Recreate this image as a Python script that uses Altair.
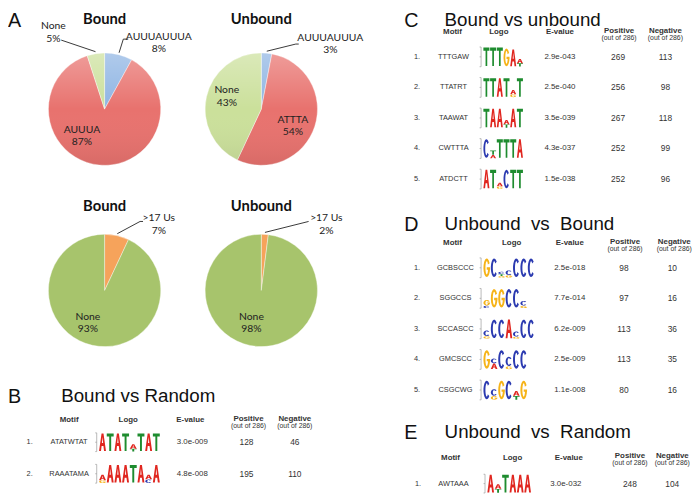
import altair as alt
import numpy as np
import pandas as pd

# ---------------- Panel A: pie data ----------------
top_bound_cat = ["AUUUAUUUA", "AUUUA", "None"]
top_bound_pct = [8, 87, 5]
top_unbound_cat = ["AUUUAUUUA", "ATTTA", "None"]
top_unbound_pct = [3, 54, 43]
bot_bound_cat = [">17 Us", "None"]
bot_bound_pct = [7, 93]
bot_unbound_cat = [">17 Us", "None"]
bot_unbound_pct = [2, 98]

# ---------------- Panel B: Bound vs Random ----------------
b_motifs = ["ATATWTAT", "RAAATAMA"]
b_evalues = ["3.0e-009", "4.8e-008"]
b_positive = [128, 195]
b_negative = [46, 110]
b_logos = ["A2 T2 A2 T2 T.3/A.5 T2 A2 T2",
           "G.3/A.6 A2 A2 A2 T2 A2 C.4/A.5 A2"]

# ---------------- Panel C: Bound vs unbound ----------------
c_motifs = ["TTTGAW", "TTATRT", "TAAWAT", "CWTTTA", "ATDCTT"]
c_evalues = ["2.9e-043", "2.5e-040", "3.5e-039", "4.3e-037", "1.5e-038"]
c_positive = [269, 256, 267, 252, 252]
c_negative = [113, 98, 118, 99, 96]
c_logos = ["T2 T2 T2 G1.9 A1.8 T.35/A.45",
           "T2 T2 A2 T2 G.3/A.45 T2",
           "T2 A2 A2 T.35/A.45 A2 T2",
           "C2 A.35/T.45 T2 T2 T2 A2",
           "A2 T2 G.25/A.4 C2 T2 T2"]

# ---------------- Panel D: Unbound vs Bound ----------------
d_motifs = ["GCBSCCC", "SGGCCS", "SCCASCC", "GMCSCC", "CSGCWG"]
d_evalues = ["2.5e-018", "7.7e-014", "6.2e-009", "2.5e-009", "1.1e-008"]
d_positive = [98, 97, 113, 113, 80]
d_negative = [10, 16, 36, 35, 16]
d_logos = ["G2 C2 G.15/T.2/C.25 G.25/C.5 C2 C2 C2",
           "C.25/G.6 G2 G2 C2 C2 G.25/C.5",
           "G.25/C.6 C2 C2 A2 G.2/C.55 C2 C2",
           "G2 A.6/C.5 C2 G.3/C1.0 C2 C2",
           "C2 G.4/C.7 G2 C2 T.4/A.5 G2"]

# ---------------- Panel E: Unbound vs Random ----------------
e_motifs = ["AWTAAA"]
e_evalues = ["3.0e-032"]
e_positive = [248]
e_negative = [104]
e_logos = ["A2 T.45/A.5 T2 A2 A2 A2"]

LOGO_COLORS = {"A": "#e0261f", "C": "#2b3ab0", "G": "#f6b318", "T": "#1e8c2f"}
FP = "Lato"
FT = "Liberation Sans"


# ---------------- glyph shapes for sequence logos ----------------
def _ring(a0, a1, rxo=0.5, ryo=0.5, rxi=0.2, ryi=0.36, n=16):
    ang = np.radians(np.linspace(a0, a1, n))
    outer = [(0.5 + rxo * np.cos(a), 0.5 - ryo * np.sin(a)) for a in ang]
    inner = [(0.5 + rxi * np.cos(a), 0.5 - ryi * np.sin(a)) for a in ang[::-1]]
    return outer + inner


def _area(p):
    s = 0.0
    for (x1, y1), (x2, y2) in zip(p, p[1:] + p[:1]):
        s += x1 * y2 - x2 * y1
    return s / 2


def _orient(p, sign):
    return p if np.sign(_area(p)) == sign else p[::-1]


GLYPHS = {
    "T": [(1, [(0, 0), (1, 0), (1, 0.17), (0.64, 0.17), (0.64, 1), (0.36, 1), (0.36, 0.17), (0, 0.17)])],
    "A": [(1, [(0, 1), (0.36, 0), (0.64, 0), (1, 1), (0.72, 1), (0.63, 0.72), (0.37, 0.72), (0.28, 1)]),
          (-1, [(0.41, 0.55), (0.59, 0.55), (0.5, 0.2)])],
    "C": [(1, _ring(40, 320))],
    "G": [(1, _ring(30, 360)), (1, [(0.5, 0.47), (1, 0.47), (1, 0.6), (0.5, 0.6)])],
}


def glyph_path(letter, aw):
    parts = []
    for sign, poly in GLYPHS[letter]:
        poly = _orient(list(poly), sign)
        pts = [((x - 0.5) * 2 * aw, (y - 0.5) * 2) for x, y in poly]
        parts.append("M" + " L".join(f"{x:.3f},{y:.3f}" for x, y in pts) + " Z")
    return " ".join(parts)


# ---------------- pie builder ----------------
R = 57


def pie(cats, pct, colors, title, xdom, ydom, title_dy, inner, outer, leader,
        panel=None, shade=False):
    w = xdom[1] - xdom[0]
    h = ydom[1] - ydom[0]
    xs = alt.Scale(domain=list(xdom), nice=False, zero=False)
    ys = alt.Scale(domain=list(ydom), nice=False, zero=False, reverse=True)
    cx = alt.XDatum(0, type="quantitative", scale=xs, axis=None)
    cy = alt.YDatum(0, type="quantitative", scale=ys, axis=None)
    X = alt.X("x:Q", scale=xs, axis=None)
    Y = alt.Y("y:Q", scale=ys, axis=None)

    df = pd.DataFrame({"cat": cats, "pct": pct, "color": colors,
                       "ord": list(range(len(cats)))})
    layers = [alt.Chart(df).mark_arc(outerRadius=R, stroke="white", strokeWidth=0.4).encode(
        theta=alt.Theta("pct:Q", stack=True), order=alt.Order("ord:Q"),
        color=alt.Color("color:N", scale=None), x=cx, y=cy)]
    if shade:
        grad = alt.LinearGradient(gradient="linear", x1=0, x2=0, y1=0, y2=1, stops=[
            alt.GradientStop(color="rgba(255,255,255,0.30)", offset=0),
            alt.GradientStop(color="rgba(255,255,255,0.0)", offset=0.5),
            alt.GradientStop(color="rgba(0,0,0,0.07)", offset=1)])
        layers.append(alt.Chart(df.head(1)).mark_arc(
            outerRadius=R, theta=0, theta2=2 * np.pi, color=grad).encode(x=cx, y=cy))

    cum = np.concatenate([[0], np.cumsum(pct)])
    tot = float(sum(pct))
    lrows = []
    for g, (k, pts) in enumerate(leader):
        mid = 2 * np.pi * (cum[k] + pct[k] / 2) / tot
        ex, ey = (R + 2) * np.sin(mid), -(R + 2) * np.cos(mid)
        for o, (x, y) in enumerate([(ex, ey)] + pts):
            lrows.append({"g": g, "o": o, "x": x, "y": y})
    if lrows:
        layers.append(alt.Chart(pd.DataFrame(lrows)).mark_line(
            color="#222", strokeWidth=0.9).encode(x=X, y=Y, detail="g:N", order="o:Q"))

    # y gives the first line of each two-line label
    lab = pd.DataFrame([{"x": x, "y": y, "t": t} for t, x, y in inner + outer])
    layers.append(alt.Chart(lab).mark_text(
        font=FP, fontSize=10.5, color="#222", lineBreak="\n", lineHeight=12.5,
        baseline="middle", align="center").encode(x=X, y=Y, text="t:N"))

    tdf = pd.DataFrame([{"x": 0, "y": title_dy, "t": title}])
    layers.append(alt.Chart(tdf).mark_text(
        font=FP, fontSize=15, fontWeight="bold", color="#111",
        baseline="middle").encode(x=X, y=Y, text="t:N"))
    if panel:
        pdf = pd.DataFrame([{"x": xdom[0], "y": ydom[0], "t": panel}])
        layers.append(alt.Chart(pdf).mark_text(
            font=FT, fontSize=20, color="#111", align="left",
            baseline="top").encode(x=X, y=Y, text="t:N"))
    return alt.layer(*layers).properties(width=w, height=h)


# ---------------- table builder ----------------
def table(panel, title, motifs, evals, pos, neg, logos, L, shift=0):
    W, H, first, rowh, ppb, lw = L["W"], L["H"], L["first"], L["rowh"], L["ppb"], L["lw"]
    d0 = -first / rowh
    xs = alt.Scale(domain=[shift, shift + W], nice=False, zero=False)
    ys = alt.Scale(domain=[d0, d0 + H / rowh], nice=False, zero=False, reverse=True)
    X = alt.X("x:Q", scale=xs, axis=None)
    Y = alt.Y("y:Q", scale=ys, axis=None)

    def r(px):
        return (px - first) / rowh

    C = L["col"]
    cells = []
    for i, (m, e, p, n) in enumerate(zip(motifs, evals, pos, neg)):
        cells += [{"x": C["num"], "y": i, "t": f"{i + 1}.", "fs": 7.5},
                  {"x": C["motif"], "y": i, "t": m, "fs": 7.5},
                  {"x": C["ev"], "y": i, "t": e, "fs": 8},
                  {"x": C["pos"], "y": i, "t": str(p), "fs": 8.5},
                  {"x": C["neg"], "y": i, "t": str(n), "fs": 8.5}]
    layers = [alt.Chart(pd.DataFrame(cells)).mark_text(
        font=FT, color="#333", baseline="middle").encode(
        x=X, y=Y, text="t:N", size=alt.Size("fs:Q", scale=None))]

    Hc = L["hdr"]
    hdr = pd.DataFrame([{"x": Hc["motif"], "y": r(L["hy"]), "t": "Motif"},
                        {"x": Hc["logo"], "y": r(L["hy"]), "t": "Logo"},
                        {"x": Hc["ev"], "y": r(L["hy"]), "t": "E-value"},
                        {"x": Hc["pos"], "y": r(L["py"]), "t": "Positive"},
                        {"x": Hc["neg"], "y": r(L["py"]), "t": "Negative"}])
    layers.append(alt.Chart(hdr).mark_text(
        font=FT, fontSize=8, fontWeight="bold", color="#333",
        baseline="middle").encode(x=X, y=Y, text="t:N"))
    sub = pd.DataFrame([{"x": Hc["pos"], "y": r(L["sy"]), "t": "(out of 286)"},
                        {"x": Hc["neg"], "y": r(L["sy"]), "t": "(out of 286)"}])
    layers.append(alt.Chart(sub).mark_text(
        font=FT, fontSize=7, color="#333", baseline="middle").encode(x=X, y=Y, text="t:N"))

    tt = pd.DataFrame([{"x": L["px"], "y": r(L["ty"]), "t": panel, "fs": 20},
                       {"x": L["tx"], "y": r(L["ty"]), "t": title, "fs": 19}])
    layers.append(alt.Chart(tt).mark_text(
        font=FT, color="#111", align="left", baseline="top").encode(
        x=X, y=Y, text="t:N", size=alt.Size("fs:Q", scale=None)))

    lets, rules = [], []
    for i, logo in enumerate(logos):
        x0 = L["logo0"]
        half = ppb / rowh
        rules += [{"x": x0 - 2, "x2": x0 - 2, "y": i - half, "y2": i + half},
                  {"x": x0 - 3.5, "x2": x0 - 2, "y": i - half, "y2": i - half},
                  {"x": x0 - 3.5, "x2": x0 - 2, "y": i + half, "y2": i + half},
                  {"x": x0 - 3.5, "x2": x0 - 2, "y": i, "y2": i}]
        for j, colspec in enumerate(logo.split()):
            cum = 0.0
            for item in colspec.split("/"):
                let, hb = item[0], float(item[1:])
                hpx = hb * ppb * 0.94
                cyo = ppb - (cum + hb / 2) * ppb
                lets.append({"x": x0 + (j + 0.5) * lw, "y": i + cyo / rowh,
                             "shape": glyph_path(let, lw * 0.9 / hpx),
                             "sz": hpx ** 2, "c": LOGO_COLORS[let]})
                cum += hb
    layers.append(alt.Chart(pd.DataFrame(rules)).mark_rule(
        color="#9a9a9a", strokeWidth=0.7).encode(
        x=X, y=Y, x2=alt.X2("x2:Q"), y2=alt.Y2("y2:Q")))
    layers.append(alt.Chart(pd.DataFrame(lets)).mark_point(
        filled=True, opacity=1, strokeWidth=0).encode(
        x=X, y=Y, shape=alt.Shape("shape:N", scale=None),
        size=alt.Size("sz:Q", scale=None), color=alt.Color("c:N", scale=None)))
    return alt.layer(*layers).properties(width=W, height=H)


# ---------------- assemble ----------------
top_cols = ["#8eb4e3", "#e8726e", "#cbe09b"]
bot_cols = ["#f6a35b", "#a7c46c"]

pA1 = pie(top_bound_cat, top_bound_pct, top_cols, "Bound", (-98, 79), (-99, 78), -91,
          inner=[("AUUUA\n87%", -23, 21)],
          outer=[("AUUUAUUUA\n8%", 55, -73), ("None\n5%", -52, -84)],
          leader=[(0, [(19, -71), (24, -71)]), (2, [(-44, -70)])], panel="A", shade=True)
pA2 = pie(top_unbound_cat, top_unbound_pct, top_cols, "Unbound", (-80, 97), (-99, 78), -91,
          inner=[("None\n43%", -35, -19), ("ATTTA\n54%", 32, 11)],
          outer=[("AUUUAUUUA\n3%", 70, -72)],
          leader=[(0, [(35, -66), (38, -66)])], shade=True)
pB1 = pie(bot_bound_cat, bot_bound_pct, bot_cols, "Bound", (-98, 79), (-106, 69), -86,
          inner=[("None\n93%", -17, 27)],
          outer=[(">17 Us\n7%", 55, -73)],
          leader=[(0, [(36, -70), (39, -70)])])
pB2 = pie(bot_unbound_cat, bot_unbound_pct, bot_cols, "Unbound", (-80, 97), (-106, 69), -86,
          inner=[("None\n98%", -10, 27)],
          outer=[(">17 Us\n2%", 66, -73)],
          leader=[(0, [(48, -70)])])

# left column tables: x measured from page x = 8; right column from page x = 350
LB = dict(W=354, H=136, first=85, rowh=32, ppb=9.5, lw=7.8, logo0=92,
          col=dict(num=22, motif=62, ev=187, pos=242, neg=291),
          hdr=dict(motif=62, logo=122, ev=185, pos=244, neg=291),
          hy=62, py=61, sy=68.5, ty=29.5, px=0, tx=54)
LC = dict(W=330, H=197, first=46, rowh=31, ppb=10, lw=6.8, logo0=133,
          col=dict(num=66, motif=103, ev=211, pos=270, neg=318),
          hdr=dict(motif=102, logo=149, ev=211, pos=271, neg=318),
          hy=21, py=19.5, sy=26.5, ty=0, px=53, tx=94)
LD = dict(W=330, H=210, first=63, rowh=31, ppb=10, lw=7.5, logo0=133,
          col=dict(num=66, motif=105, ev=221, pos=276, neg=325),
          hdr=dict(motif=102, logo=162, ev=221, pos=277, neg=327),
          hy=38, py=36.5, sy=43.5, ty=9.5, px=53, tx=94)
LE = dict(W=330, H=81, first=72, rowh=31, ppb=9.5, lw=7.5, logo0=137,
          col=dict(num=67, motif=103, ev=217, pos=282, neg=325),
          hdr=dict(motif=100, logo=163, ev=220, pos=282, neg=325),
          hy=46, py=44.5, sy=51.5, ty=11, px=53, tx=94)

tB = table("B", "Bound vs Random", b_motifs, b_evalues, b_positive, b_negative, b_logos, LB)
tC = table("C", "Bound vs unbound", c_motifs, c_evalues, c_positive, c_negative, c_logos,
           LC, shift=12)
tD = table("D", "Unbound\u00a0\u00a0vs\u00a0\u00a0Bound", d_motifs, d_evalues, d_positive,
           d_negative, d_logos, LD, shift=12)
tE = table("E", "Unbound\u00a0\u00a0vs\u00a0\u00a0Random", e_motifs, e_evalues, e_positive,
           e_negative, e_logos, LE, shift=12)

row1 = alt.hconcat(pA1, pA2, spacing=0, bounds="flush")
row2 = alt.hconcat(pB1, pB2, spacing=0, bounds="flush")
left = alt.vconcat(row1, row2, tB, spacing=0, bounds="full")
right = alt.vconcat(tC, tD, tE, spacing=0, bounds="flush")
chart = alt.hconcat(left, right, spacing=0, bounds="full").properties(
    padding=0, background="white"
).configure_view(stroke=None)

chart.save("out.html", embed_options={"renderer": "svg", "actions": False})
